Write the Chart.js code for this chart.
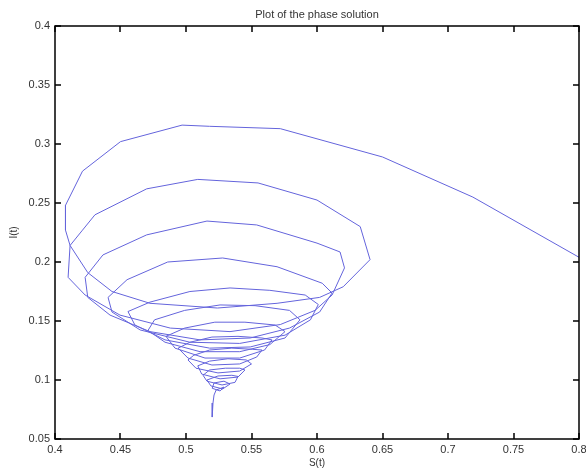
<!DOCTYPE html>
<html>
<head>
<meta charset="utf-8">
<script src="https://cdn.jsdelivr.net/npm/chart.js@4.4.1/dist/chart.umd.min.js"></script>
<style>
  body { margin: 0; background: #fff; }
  #phase { display: block; }
</style>
</head>
<body>
<canvas id="phase" width="586" height="469"></canvas>
<script>
// phase trajectory S(t) / I(t)
const sValues = [
  0.800, 0.719, 0.650, 0.572, 0.518, 0.497, 0.450, 0.421, 0.408, 0.408, 0.4115,
  0.425, 0.4435, 0.4725, 0.524, 0.5695, 0.602, 0.620, 0.6405,
  0.633, 0.600, 0.555, 0.509, 0.470, 0.4305, 0.421, 0.4115,
  0.410, 0.423, 0.4496, 0.488, 0.5336, 0.572, 0.5985, 0.6115, 0.621,
  0.6176, 0.600, 0.554, 0.516, 0.470, 0.4366, 0.423, 0.425,
  0.442, 0.4725, 0.5107, 0.549, 0.579, 0.602, 0.6115,
  0.604, 0.5695, 0.528, 0.486, 0.455, 0.4405,
  0.4435, 0.465, 0.503, 0.541, 0.5756, 0.595, 0.601,
  0.591, 0.564, 0.5336, 0.503, 0.4725, 0.4557,
  0.461, 0.484, 0.518, 0.549, 0.5756, 0.587,
  0.579, 0.5527, 0.526, 0.499, 0.476, 0.471,
  0.484, 0.5107, 0.541, 0.564, 0.5756,
  0.568, 0.545, 0.522, 0.499, 0.4847,
  0.4916, 0.5145, 0.541, 0.560, 0.5656,
  0.558, 0.5397, 0.5198, 0.503, 0.494,
  0.5015, 0.5198, 0.541, 0.554, 0.558,
  0.551, 0.535, 0.518, 0.506, 0.5015,
  0.5076, 0.5244, 0.541, 0.550,
  0.546, 0.532, 0.518, 0.509,
  0.512, 0.526, 0.5397, 0.545,
  0.541, 0.530, 0.518, 0.513,
  0.516, 0.5275, 0.5374, 0.5397,
  0.535, 0.5244, 0.516, 0.519, 0.528, 0.5336,
  0.529, 0.5214, 0.520, 0.526, 0.529,
  0.523, 0.5214, 0.5206, 0.520
];
const iValues = [
  0.204, 0.255, 0.289, 0.313, 0.315, 0.316, 0.302, 0.277, 0.248, 0.227, 0.214,
  0.191, 0.175, 0.165, 0.161, 0.165, 0.170, 0.179, 0.202,
  0.230, 0.2525, 0.267, 0.270, 0.262, 0.240, 0.227, 0.214,
  0.187, 0.172, 0.155, 0.144, 0.141, 0.147, 0.159, 0.172, 0.195,
  0.2085, 0.216, 0.2314, 0.2347, 0.223, 0.206, 0.187, 0.170,
  0.155, 0.141, 0.134, 0.1356, 0.144, 0.1576, 0.1737,
  0.182, 0.196, 0.2034, 0.200, 0.185, 0.170,
  0.1576, 0.1424, 0.132, 0.131, 0.138, 0.151, 0.164,
  0.172, 0.176, 0.178, 0.175, 0.166, 0.158,
  0.1466, 0.134, 0.127, 0.128, 0.1356, 0.151,
  0.159, 0.163, 0.1636, 0.159, 0.151, 0.142,
  0.132, 0.124, 0.124, 0.130, 0.141,
  0.1466, 0.149, 0.149, 0.144, 0.137,
  0.127, 0.1186, 0.1186, 0.1254, 0.134,
  0.1356, 0.137, 0.1364, 0.132, 0.127,
  0.1186, 0.1127, 0.1136, 0.1195, 0.1254,
  0.126, 0.127, 0.1254, 0.121, 0.117,
  0.110, 0.106, 0.1076, 0.1136,
  0.117, 0.118, 0.116, 0.112,
  0.105, 0.101, 0.1025, 0.1085,
  0.110, 0.110, 0.1085, 0.104,
  0.099, 0.0958, 0.098, 0.103,
  0.104, 0.1034, 0.100, 0.095, 0.0924, 0.0966,
  0.099, 0.0975, 0.093, 0.0907, 0.094,
  0.0915, 0.0873, 0.0805, 0.0686
];

const xTicks = [0.4, 0.45, 0.5, 0.55, 0.6, 0.65, 0.7, 0.75, 0.8];
const yTicks = [0.05, 0.1, 0.15, 0.2, 0.25, 0.3, 0.35, 0.4];

const titulo = 'Plot of the phase solution';
const fuente = '"Liberation Sans", Arial, sans-serif';

const puntos = sValues.map((s, i) => ({ x: s, y: iValues[i] }));

/* marco tipo matlab: caja completa con ticks hacia adentro */
const marcoPlugin = {
    id: 'marcoPlugin',
    afterDraw(chart) {
        const { ctx, chartArea: a, scales: { x, y } } = chart;
        const l = Math.round(a.left), r = Math.round(a.right);
        const t = Math.round(a.top), b = Math.round(a.bottom);
        ctx.save();
        ctx.strokeStyle = '#000';
        ctx.lineWidth = 1.5;
        ctx.strokeRect(l, t, r - l, b - t);
        ctx.beginPath();
        x.ticks.forEach(tk => {
            const px = Math.round(x.getPixelForValue(tk.value));
            ctx.moveTo(px, b); ctx.lineTo(px, b - 6);
            ctx.moveTo(px, t); ctx.lineTo(px, t + 6);
        });
        y.ticks.forEach(tk => {
            const py = Math.round(y.getPixelForValue(tk.value));
            ctx.moveTo(l, py); ctx.lineTo(l + 6, py);
            ctx.moveTo(r, py); ctx.lineTo(r - 6, py);
        });
        ctx.stroke();

        ctx.fillStyle = '#333';
        ctx.font = '11px ' + fuente;
        ctx.textAlign = 'center';
        ctx.textBaseline = 'middle';
        ctx.fillText(titulo, (a.left + a.right) / 2, 15);
        ctx.restore();
    }
};

const fmt = v => String(+v.toFixed(2));

new Chart(document.getElementById('phase'), {
    type: 'scatter',
    data: {
        datasets: [{
            data: puntos,
            showLine: true,
            borderColor: 'rgb(100, 100, 220)',
            borderWidth: 1,
            pointRadius: 0,
            tension: 0
        }]
    },
    options: {
        responsive: false,
        animation: false,
        devicePixelRatio: 1,
        layout: { padding: { top: 26, right: 7, left: 0, bottom: 0 } },
        plugins: {
            legend: { display: false },
            tooltip: { enabled: false }
        },
        scales: {
            x: {
                type: 'linear',
                min: 0.4,
                max: 0.8,
                afterBuildTicks: s => { s.ticks = xTicks.map(v => ({ value: v })); },
                afterFit: s => { s.height = 30; s.paddingRight = 0; s.paddingLeft = 0; },
                grid: { display: false, drawTicks: false },
                border: { display: false },
                ticks: {
                    padding: 4,
                    color: '#333',
                    font: { family: fuente, size: 11 },
                    maxRotation: 0,
                    callback: fmt
                },
                title: {
                    display: true,
                    text: 'S(t)',
                    color: '#333',
                    font: { family: fuente, size: 10 },
                    padding: { top: 0, bottom: 0 }
                }
            },
            y: {
                type: 'linear',
                min: 0.05,
                max: 0.4,
                afterBuildTicks: s => { s.ticks = yTicks.map(v => ({ value: v })); },
                afterFit: s => { s.width = 55; },
                grid: { display: false, drawTicks: false },
                border: { display: false },
                ticks: {
                    padding: 5,
                    color: '#333',
                    font: { family: fuente, size: 11 },
                    callback: fmt
                },
                title: {
                    display: true,
                    text: 'I(t)',
                    color: '#333',
                    font: { family: fuente, size: 10 },
                    padding: { top: 8, bottom: 0 }
                }
            }
        }
    },
    plugins: [marcoPlugin]
});
</script>
</body>
</html>
